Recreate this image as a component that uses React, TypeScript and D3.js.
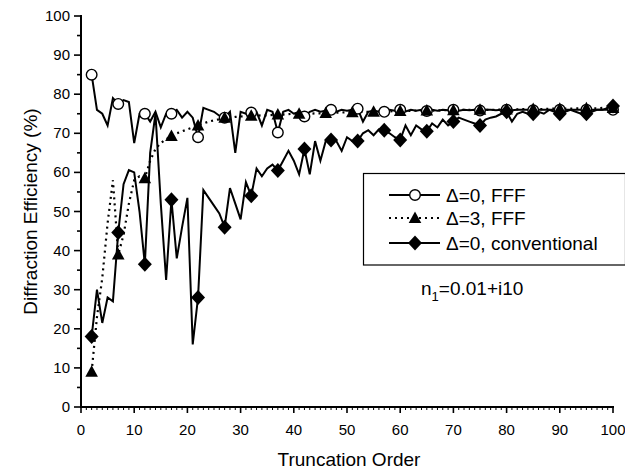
import React from "react";
import * as d3 from "d3";

const orders: number[] = d3.range(2, 101);

const fffDelta0: number[] = [
  85, 76, 75, 72, 79, 77.5, 78.5, 78, 67.5, 75,
  75, 73, 75.5, 71.5, 75, 75, 76, 74, 75.5, 74,
  69, 76.5, 76, 75.5, 74.5, 74, 75.5, 65, 75.5, 75,
  75.3, 75.5, 72, 76, 75.5, 70.2, 75.5, 76, 75, 75.5,
  74.3, 75.5, 76, 75.5, 75.8, 76, 75.5, 76, 75.8, 76,
  76.3, 73, 75.5, 75.8, 75.5, 75.5, 76, 75.8, 76, 75.6,
  76, 75.8, 76, 75.7, 76, 75.8, 76, 75.9, 76, 75.8,
  76, 75.9, 76, 75.8, 76, 76, 75.9, 76, 76, 75.9,
  76, 76, 76, 75.9, 76, 76, 76, 76, 76, 76,
  76, 76, 76, 76, 76, 76, 76, 76, 76
];

const fffDelta3: number[] = [
  9, 23, 33, 47, 58, 39, 44, 52, 58, 59,
  58.5, 63, 66, 67.5, 68.5, 69.3, 70, 70.5, 71, 71.5,
  72, 72.5, 73, 73.3, 73.6, 74, 74, 74.2, 74.3, 74.4,
  74.5, 74.5, 74.6, 74.6, 74.7, 74.8, 74.8, 74.9, 75, 75,
  75, 75, 75.1, 75.1, 75.2, 75.2, 75.3, 75.3, 75.4, 75.4,
  75.5, 75.5, 75.5, 75.5, 75.6, 75.6, 75.6, 75.7, 75.7, 75.7,
  75.7, 75.8, 75.8, 75.8, 75.8, 75.8, 75.9, 75.9, 75.9, 75.9,
  76, 76, 76, 76, 76, 76, 76, 76.1, 76.1, 76.1,
  76.1, 76.2, 76.2, 76.2, 76.2, 76.2, 76.3, 76.3, 76.3, 76.3,
  76.3, 76.4, 76.4, 76.4, 76.4, 76.4, 76.5, 76.5, 76.5
];

const conventional: number[] = [
  18, 30, 21.5, 28, 27, 44.6, 57, 60.6, 60, 50,
  36.5, 65, 75, 52, 32.5, 53, 38, 46, 53.5, 16,
  28, 55.5, 53.5, 51.5, 49.5, 46, 56, 52, 48, 57.5,
  54, 61, 59, 61, 62, 60.5, 63, 65.5, 63, 59.5,
  66, 59.5, 68, 63, 68, 68.3, 68, 65.5, 69, 68,
  68, 70, 70.8, 69.5, 71, 70.8, 70, 69, 68.3, 72,
  69.5, 72, 71, 70.5, 72.5, 71.5, 73.5, 72, 73, 74,
  73.5, 73, 72.5, 72, 73.5, 74, 74.3, 75, 75.5, 73,
  75, 75.5, 75, 75, 75.5, 75, 76, 75.5, 75, 75.5,
  76, 75.5, 75, 75, 75.5, 76, 76, 76.5, 77
];

const circleMarkers: number[] = [2, 7, 12, 17, 22, 27, 32, 37, 42, 47, 52, 57, 60, 65, 70, 75, 80, 85, 90, 95, 100];
const triangleMarkers: number[] = [2, 7, 12, 17, 22, 27, 32, 37, 41, 46, 51, 55, 60, 65, 70, 75, 80, 85, 90, 95, 100];
const diamondMarkers: number[] = [2, 7, 12, 17, 22, 27, 32, 37, 42, 47, 52, 57, 60, 65, 70, 75, 80, 85, 90, 95, 100];

const xTicks: number[] = [0, 10, 20, 30, 40, 50, 60, 70, 80, 90, 100];
const yTicks: number[] = [0, 10, 20, 30, 40, 50, 60, 70, 80, 90, 100];
const legendLabels: string[] = ["\u0394=0, FFF", "\u0394=3, FFF", "\u0394=0, conventional"];

const W = 625;
const H = 472;
const FONT = "'Liberation Sans', Arial, Helvetica, sans-serif";

export default function App() {
  const x = d3.scaleLinear().domain([0, 100]).range([81, 613]);
  const y = d3.scaleLinear().domain([0, 100]).range([407, 16]);

  const mk = (vals: number[]) =>
    d3
      .line<number>()
      .x((_, i) => x(orders[i]))
      .y((d) => y(d))(vals) as string;

  const valAt = (vals: number[], o: number) => vals[orders.indexOf(o)];

  const circle = (cx: number, cy: number, key: string) => (
    <circle key={key} cx={cx} cy={cy} r={5.3} fill="#fff" stroke="#000" strokeWidth={1.4} />
  );
  const tri = (cx: number, cy: number, key: string) => (
    <path key={key} d={`M${cx},${cy - 6.5}L${cx + 6.3},${cy + 5}L${cx - 6.3},${cy + 5}Z`} fill="#000" />
  );
  const dia = (cx: number, cy: number, key: string) => (
    <path key={key} d={`M${cx},${cy - 7.5}L${cx + 7},${cy}L${cx},${cy + 7.5}L${cx - 7},${cy}Z`} fill="#000" />
  );

  const xMinor = d3.range(0, 101, 1);
  const yMinor = d3.range(0, 101, 5);

  const legendRows = [195, 218, 243];

  return (
    <svg
      width={W}
      height={H}
      style={{ position: "absolute", left: 0, top: 0, background: "#fff" }}
      fontFamily={FONT}
    >
      <rect x={0} y={0} width={W} height={H} fill="#fff" />
      {/* axes */}
      <line x1={x(0)} x2={x(0)} y1={y(100) - 1} y2={y(0) + 1} stroke="#000" strokeWidth={2} />
      <line x1={x(0) - 1} x2={x(100) + 1} y1={y(0)} y2={y(0)} stroke="#000" strokeWidth={2} />
      {xMinor.map((t) => (
        <line
          key={"xm" + t}
          x1={x(t)}
          x2={x(t)}
          y1={y(0)}
          y2={y(0) + (t % 10 === 0 ? 6 : 3)}
          stroke="#000"
          strokeWidth={t % 10 === 0 ? 1.6 : 1}
        />
      ))}
      {yMinor.map((t) => (
        <line
          key={"ym" + t}
          x1={x(0)}
          x2={x(0) - (t % 10 === 0 ? 7 : 4)}
          y1={y(t)}
          y2={y(t)}
          stroke="#000"
          strokeWidth={1.6}
        />
      ))}
      {xTicks.map((t) => (
        <text key={"xt" + t} x={x(t)} y={435} textAnchor="middle" fontSize={15}>
          {t}
        </text>
      ))}
      {yTicks.map((t) => (
        <text key={"yt" + t} x={70} y={y(t) + 5} textAnchor="end" fontSize={15}>
          {t}
        </text>
      ))}
      <text x={349} y={466} textAnchor="middle" fontSize={19}>
        Truncation Order
      </text>
      <text
        transform={`translate(37,${(y(0) + y(100)) / 2}) rotate(-90)`}
        textAnchor="middle"
        fontSize={19}
      >
        Diffraction Efficiency (%)
      </text>

      {/* series lines */}
      <path d={mk(fffDelta3)} fill="none" stroke="#000" strokeWidth={2.2} strokeDasharray="2,4" />
      <path d={mk(fffDelta0)} fill="none" stroke="#000" strokeWidth={2} />
      <path d={mk(conventional)} fill="none" stroke="#000" strokeWidth={2} />

      {/* markers */}
      {circleMarkers.map((o) => circle(x(o), y(valAt(fffDelta0, o)), "c" + o))}
      {triangleMarkers.map((o) => tri(x(o), y(valAt(fffDelta3, o)), "t" + o))}
      {diamondMarkers.map((o) => dia(x(o), y(valAt(conventional, o)), "d" + o))}

      {/* legend */}
      <rect x={363.5} y={173.5} width={262} height={91.5} fill="#fff" stroke="#000" strokeWidth={1.2} />
      {legendRows.map((ry, i) => (
        <g key={"lg" + i}>
          <line
            x1={389}
            x2={440}
            y1={ry}
            y2={ry}
            stroke="#000"
            strokeWidth={2}
            strokeDasharray={i === 1 ? "2,4" : undefined}
          />
          {i === 0 ? circle(415, ry, "lc") : i === 1 ? tri(415, ry, "lt") : dia(415, ry, "ld")}
          <text x={446} y={ry + 7} fontSize={19}>
            {legendLabels[i]}
          </text>
        </g>
      ))}
      <text x={421} y={295} fontSize={19}>
        n
        <tspan dy={6} fontSize={13}>
          1
        </tspan>
        <tspan dy={-6}>=0.01+i10</tspan>
      </text>
    </svg>
  );
}
